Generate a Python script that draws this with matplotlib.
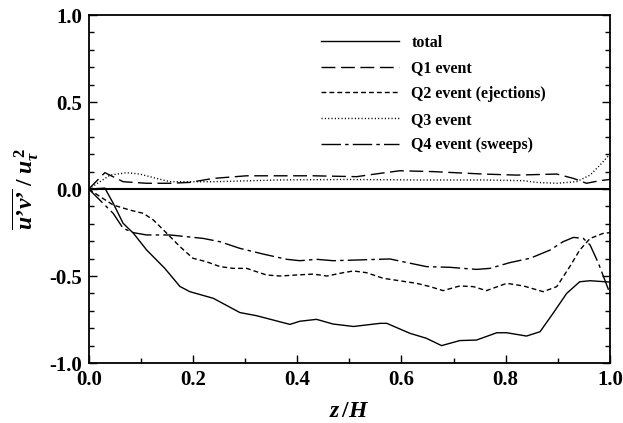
import matplotlib
matplotlib.use("Agg")
import matplotlib.pyplot as plt
from matplotlib.ticker import MultipleLocator

plt.rcParams['font.family'] = ['Liberation Serif', 'DejaVu Serif']
plt.rcParams['font.weight'] = 'bold'
plt.rcParams['mathtext.fontset'] = 'custom'
plt.rcParams['mathtext.rm'] = 'Liberation Serif:bold'
plt.rcParams['mathtext.it'] = 'Liberation Serif:italic:bold'
plt.rcParams['mathtext.bf'] = 'Liberation Serif:bold'
plt.rcParams['lines.scale_dashes'] = False

# ---- data ----
total_z = [0.0, 0.031, 0.047, 0.066, 0.086, 0.111, 0.146, 0.175, 0.194, 0.239, 0.29, 0.322,
           0.386, 0.405, 0.437, 0.469, 0.508, 0.559, 0.572, 0.616, 0.648, 0.677, 0.712, 0.744,
           0.783, 0.802, 0.84, 0.866, 0.891, 0.917, 0.942, 0.962, 1.0]
total_v = [0.0, 0.005, -0.082, -0.197, -0.255, -0.35, -0.456, -0.56, -0.59, -0.628, -0.71, -0.728,
           -0.778, -0.76, -0.749, -0.776, -0.79, -0.772, -0.772, -0.829, -0.858, -0.9, -0.871, -0.868,
           -0.826, -0.826, -0.845, -0.82, -0.714, -0.6, -0.533, -0.527, -0.535]

q1_z = [0.0, 0.031, 0.066, 0.111, 0.156, 0.194, 0.239, 0.303, 0.367, 0.431, 0.514, 0.559,
        0.597, 0.661, 0.757, 0.821, 0.898, 0.93, 0.955, 0.981, 1.0]
q1_v = [0.0, 0.094, 0.042, 0.033, 0.033, 0.038, 0.061, 0.076, 0.076, 0.076, 0.071, 0.09,
        0.105, 0.1, 0.086, 0.08, 0.086, 0.061, 0.033, 0.048, 0.055]

q2_z = [0.0, 0.022, 0.047, 0.079, 0.105, 0.124, 0.15, 0.175, 0.2, 0.226, 0.252, 0.277, 0.303,
        0.341, 0.367, 0.399, 0.431, 0.457, 0.488, 0.508, 0.533, 0.565, 0.629, 0.655, 0.68,
        0.712, 0.738, 0.763, 0.802, 0.834, 0.872, 0.898, 0.923, 0.942, 0.962, 0.987, 1.0]
q2_v = [0.0, -0.044, -0.092, -0.121, -0.14, -0.178, -0.255, -0.331, -0.398, -0.418, -0.446,
        -0.456, -0.456, -0.494, -0.5, -0.494, -0.489, -0.5, -0.481, -0.471, -0.481, -0.513,
        -0.542, -0.561, -0.584, -0.557, -0.561, -0.584, -0.542, -0.557, -0.59, -0.561, -0.446,
        -0.351, -0.284, -0.255, -0.251]

q3_z = [0.0, 0.041, 0.073, 0.098, 0.13, 0.156, 0.239, 0.367, 0.495, 0.629, 0.757, 0.834,
        0.859, 0.898, 0.936, 0.962, 0.981, 1.0]
q3_v = [0.0, 0.08, 0.094, 0.086, 0.061, 0.042, 0.042, 0.052, 0.055, 0.052, 0.052, 0.048,
        0.038, 0.033, 0.042, 0.08, 0.138, 0.2]

q4_z = [0.0, 0.047, 0.066, 0.086, 0.111, 0.156, 0.22, 0.252, 0.29, 0.335, 0.38, 0.405, 0.437,
        0.469, 0.514, 0.578, 0.603, 0.648, 0.693, 0.744, 0.77, 0.808, 0.847, 0.885, 0.91,
        0.93, 0.949, 0.962, 0.978, 1.0]
q4_v = [0.0, -0.14, -0.226, -0.251, -0.264, -0.264, -0.284, -0.303, -0.341, -0.374, -0.404,
        -0.412, -0.404, -0.412, -0.408, -0.402, -0.418, -0.446, -0.45, -0.462, -0.456, -0.423,
        -0.398, -0.351, -0.303, -0.278, -0.284, -0.322, -0.427, -0.6]

labels = ['total', 'Q1 event', 'Q2 event (ejections)', 'Q3 event', 'Q4 event (sweeps)']
x_ticks = [0.0, 0.2, 0.4, 0.6, 0.8, 1.0]
y_ticks = [-1.0, -0.5, 0.0, 0.5, 1.0]

fig = plt.figure(figsize=(6.23, 4.23), dpi=100)
ax = fig.add_axes([0.1424, 0.1418, 0.979 - 0.1424, 0.9645 - 0.1418])

lw = 1.0
ax.axhline(0.0, color='black', lw=1.5, zorder=1)
ax.plot(total_z, total_v, color='black', lw=lw, label=labels[0])
ax.plot(q1_z, q1_v, color='black', lw=lw, dashes=(10, 4), label=labels[1])
ax.plot(q2_z, q2_v, color='black', lw=lw, dashes=(3.5, 2.2), label=labels[2])
ax.plot(q3_z, q3_v, color='black', lw=lw, dashes=(0.8, 1.6), label=labels[3])
ax.plot(q4_z, q4_v, color='black', lw=lw, dashes=(14, 3, 2.5, 3), label=labels[4])

ax.set_xlim(0, 1.0)
ax.set_ylim(-1.0, 1.0)
ax.set_xticks(x_ticks)
ax.set_yticks(y_ticks)
ax.set_xticklabels(['%.1f' % t for t in x_ticks])
ax.set_yticklabels(['%.1f' % t for t in y_ticks])
ax.xaxis.set_minor_locator(MultipleLocator(0.1))
ax.yaxis.set_minor_locator(MultipleLocator(0.1))
ax.tick_params(which='both', direction='in', right=True, top=False, labelsize=15, width=1.0)
ax.tick_params(which='major', length=6, pad=5)
ax.tick_params(which='minor', length=3.5)
for s in ax.spines.values():
    s.set_linewidth(1.3)

ax.set_xlabel(r'$z\,/H$', fontsize=17, labelpad=8)
ax.set_ylabel("$\\overline{u\u2019v\u2019}\\;/\\;u_{\\tau}^{\\,2}$", fontsize=17, labelpad=6)

ax.legend(loc='upper left', bbox_to_anchor=(0.446, 0.943), frameon=False, fontsize=11.5,
          handlelength=4.9, handletextpad=0.75, labelspacing=0.6, borderpad=0, borderaxespad=0)

fig.savefig('out.png', dpi=100)
